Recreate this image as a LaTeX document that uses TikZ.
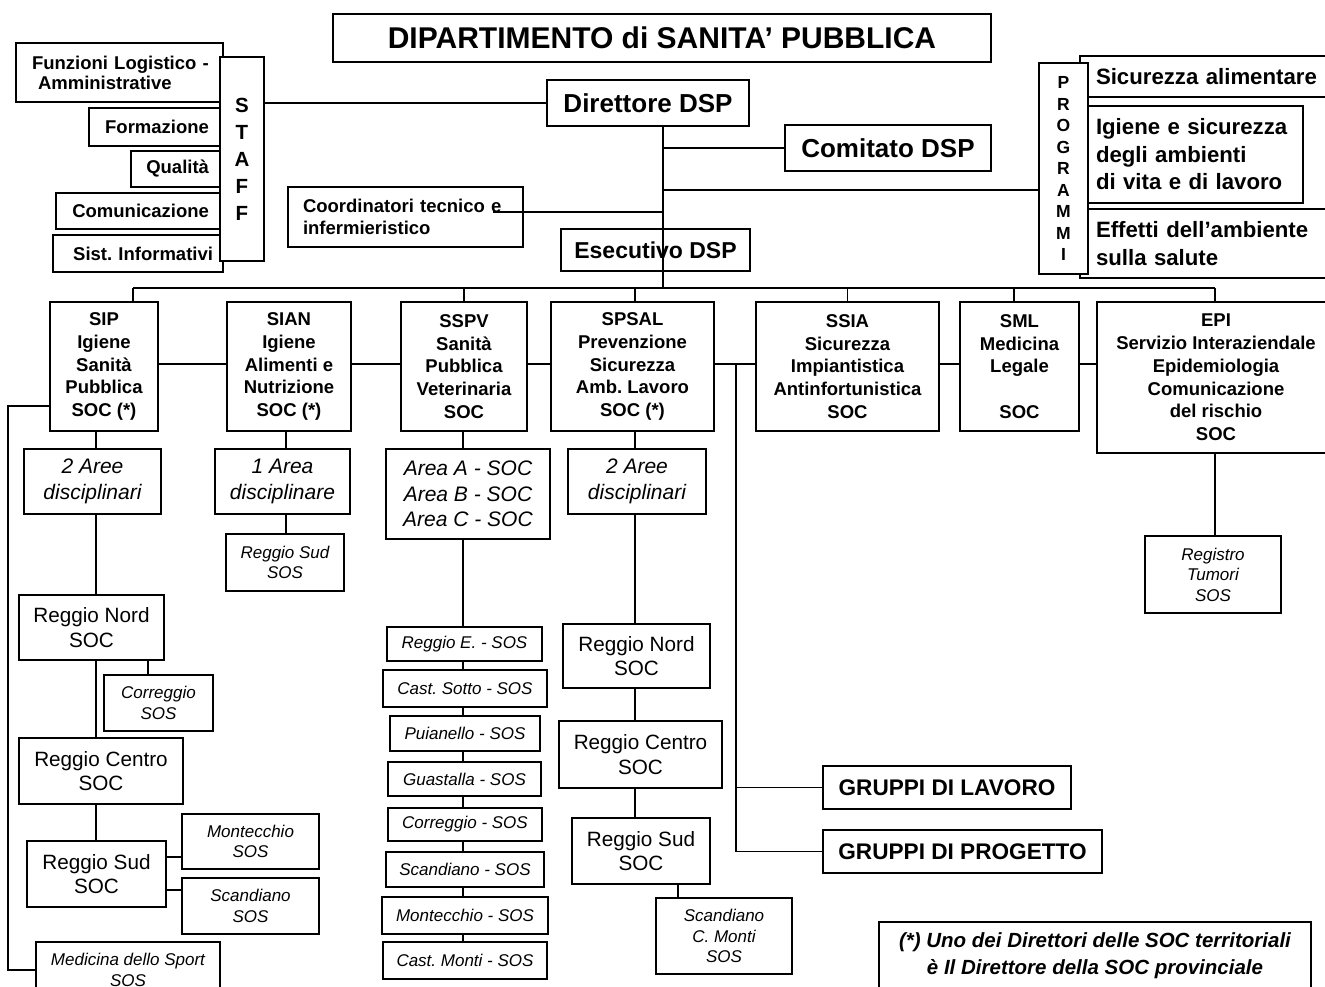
\documentclass[tikz,border=0pt]{standalone}
\usepackage{fontspec}
\setmainfont{Liberation Sans}
\frenchspacing
\pgfdeclarelayer{bg}
\pgfsetlayers{bg,main}
\begin{document}
\begin{tikzpicture}[x=1pt,y=-1pt,
  bx/.style={draw, fill=white, line width=1.5pt, inner sep=0pt, align=center},
  ln/.style={line width=1.4pt},
  fStaff/.style={font=\fontsize{18.5}{20}\selectfont\bfseries},
  fCoord/.style={font=\fontsize{18.5}{22}\selectfont\bfseries},
  fProg/.style={font=\fontsize{22.2}{27.5}\selectfont\bfseries},
  fServ/.style={font=\fontsize{18.5}{22.75}\selectfont\bfseries},
  fIt/.style={font=\fontsize{21}{25.5}\selectfont\itshape},
  fReg/.style={font=\fontsize{20.7}{24.5}\selectfont},
  fSm/.style={font=\fontsize{17}{20.5}\selectfont\itshape},
  fGr/.style={font=\fontsize{22.6}{27}\selectfont\bfseries},
  fNote/.style={font=\fontsize{20.5}{27}\selectfont\bfseries\itshape}
]
\useasboundingbox (0,0) rectangle (1325,987);

% ---------- top ----------
\node[bx, line width=2.6pt, minimum width=658, minimum height=48, font=\fontsize{30}{36}\selectfont\bfseries] (title) at (662,38) {DIPARTIMENTO di SANITA’ PUBBLICA};
\node[bx, minimum width=202, minimum height=46, font=\fontsize{26}{30}\selectfont\bfseries] (dir) at (648,103) {Direttore DSP};
\node[bx, minimum width=206, minimum height=46, font=\fontsize{26}{30}\selectfont\bfseries] (com) at (888,148) {Comitato DSP};
\node[bx, fCoord, minimum width=235, minimum height=60, text width=205, inner xsep=15pt, align=left] (coord) at (405.5,217) {\mbox{Coordinatori tecnico e}\\\mbox{infermieristico}};
\node[bx, minimum width=189, minimum height=42, font=\fontsize{23}{27}\selectfont\bfseries] (ese) at (655.5,250) {Esecutivo DSP};

% ---------- staff ----------
\node[bx, fStaff, minimum width=207, minimum height=59, text width=175, inner xsep=16pt, align=left] (funz) at (119.5,72.5) {\mbox{Funzioni Logistico -}\\\mbox{\hspace*{6pt}Amministrative}};
\node[bx, fStaff, minimum width=134, minimum height=38, text width=106, inner xsep=14pt, align=right] (form) at (156,127) {\mbox{Formazione}};
\node[bx, fStaff, minimum width=92, minimum height=36, text width=64, inner xsep=14pt, align=right] (qual) at (177,169) {\mbox{Qualità}};
\node[bx, fStaff, minimum width=167, minimum height=36, text width=139, inner xsep=14pt, align=right] (comu) at (139.5,211) {\mbox{Comunicazione}};
\node[bx, fStaff, minimum width=170, minimum height=37, text width=150, inner xsep=10pt, align=right] (sist) at (138,253.5) {\mbox{Sist. Informativi}};
\node[bx, minimum width=44, minimum height=204, font=\fontsize{20.5}{27}\selectfont\bfseries] (staff) at (242,159) {S\\T\\A\\F\\F};

% ---------- programmi ----------
\node[bx, fProg, minimum width=255, minimum height=41, text width=223, inner xsep=16pt, align=left] (sa) at (1207.5,76.5) {\mbox{Sicurezza alimentare}};
\node[bx, fProg, minimum width=223, minimum height=97, text width=191, inner xsep=16pt, align=left] (ig) at (1191.5,154.5) {\mbox{Igiene e sicurezza}\\\mbox{degli ambienti}\\\mbox{di vita e di lavoro}};
\node[bx, fProg, minimum width=255, minimum height=69, text width=223, inner xsep=16pt, align=left] (eff) at (1207.5,243.5) {\mbox{Effetti dell’ambiente}\\\mbox{sulla salute}};
\node[bx, minimum width=49, minimum height=211, font=\fontsize{17.5}{21.5}\selectfont\bfseries] (prog) at (1063.5,168.5) {P\\R\\O\\G\\R\\A\\M\\M\\I};

% ---------- services ----------
\node[bx, fServ, minimum width=108, minimum height=129] (sip) at (104,366.5) {SIP\\Igiene\\Sanità\\Pubblica\\SOC (*)};
\node[bx, fServ, minimum width=124, minimum height=129] (sian) at (289,366.5) {SIAN\\Igiene\\Alimenti e\\Nutrizione\\SOC (*)};
\node[bx, fServ, minimum width=126, minimum height=129] (sspv) at (464,366.5) {SSPV\\Sanità\\Pubblica\\Veterinaria\\SOC};
\node[bx, fServ, minimum width=163, minimum height=129] (spsal) at (632.5,366.5) {SPSAL\\Prevenzione\\Sicurezza\\Amb. Lavoro\\SOC (*)};
\node[bx, fServ, minimum width=183, minimum height=129] (ssia) at (847.5,366.5) {SSIA\\Sicurezza\\Impiantistica\\Antinfortunistica\\SOC};
\node[bx, fServ, minimum width=119, minimum height=129] (sml) at (1019.5,366.5) {SML\\Medicina\\Legale\\[22.75pt]SOC};
\node[bx, fServ, minimum width=238, minimum height=151] (epi) at (1216,377.5) {EPI\\Servizio Interaziendale\\Epidemiologia\\Comunicazione\\del rischio\\SOC};

% ---------- SIP column ----------
\node[bx, fIt, minimum width=137, minimum height=65] (sipA) at (92.5,481.5) {2 Aree\\disciplinari};
\node[bx, fReg, minimum width=145, minimum height=65] (sipN) at (91.5,627.5) {Reggio Nord\\SOC};
\node[bx, fSm, minimum width=109, minimum height=56] (sipCor) at (158.5,703) {Correggio\\SOS};
\node[bx, fReg, minimum width=164, minimum height=66] (sipC) at (101,771) {Reggio Centro\\SOC};
\node[bx, fReg, minimum width=139, minimum height=66] (sipS) at (96.5,874) {Reggio Sud\\SOC};
\node[bx, fSm, minimum width=137, minimum height=55] (sipMon) at (250.5,841.5) {Montecchio\\SOS};
\node[bx, fSm, minimum width=137, minimum height=56] (sipSca) at (250.5,906) {Scandiano\\SOS};
\node[bx, fSm, minimum width=184, minimum height=56] (sipMed) at (128,970) {Medicina dello Sport\\SOS};

% ---------- SIAN column ----------
\node[bx, fIt, minimum width=135, minimum height=65] (sianA) at (282.5,481.5) {1 Area\\disciplinare};
\node[bx, fSm, minimum width=118, minimum height=57] (sianS) at (285,562.5) {Reggio Sud\\SOS};

% ---------- SSPV column ----------
\node[bx, fIt, minimum width=164, minimum height=90] (sspvA) at (468,494) {Area A - SOC\\Area B - SOC\\Area C - SOC};
\node[bx, fSm, minimum width=155, minimum height=34] (re) at (464.5,644) {Reggio E. - SOS};
\node[bx, fSm, minimum width=164, minimum height=37] (cs) at (465,688.5) {Cast. Sotto - SOS};
\node[bx, fSm, minimum width=150, minimum height=35] (pu) at (465,733.5) {Puianello - SOS};
\node[bx, fSm, minimum width=153, minimum height=34] (gu) at (464.5,779) {Guastalla - SOS};
\node[bx, fSm, minimum width=154, minimum height=33] (co) at (465,824.5) {Correggio - SOS};
\node[bx, fSm, minimum width=158, minimum height=35] (sc) at (465,869.5) {Scandiano - SOS};
\node[bx, fSm, minimum width=166, minimum height=37] (mo) at (465,915.5) {Montecchio - SOS};
\node[bx, fSm, minimum width=164, minimum height=37] (cm) at (465,960.5) {Cast. Monti - SOS};

% ---------- SPSAL column ----------
\node[bx, fIt, minimum width=138, minimum height=65] (spA) at (637,481.5) {2 Aree\\disciplinari};
\node[bx, fReg, minimum width=147, minimum height=64] (spN) at (636.5,656) {Reggio Nord\\SOC};
\node[bx, fReg, minimum width=163, minimum height=67] (spC) at (640.5,754.5) {Reggio Centro\\SOC};
\node[bx, fReg, minimum width=138, minimum height=66] (spS) at (641,851) {Reggio Sud\\SOC};
\node[bx, fSm, minimum width=136, minimum height=76] (spSca) at (724,936) {Scandiano\\C. Monti\\SOS};

% ---------- gruppi, EPI, note ----------
\node[bx, fGr, minimum width=248, minimum height=43] (gl) at (947,787.5) {GRUPPI DI LAVORO};
\node[bx, fGr, minimum width=279, minimum height=43] (gp) at (962.5,851.5) {GRUPPI DI PROGETTO};
\node[bx, fSm, minimum width=136, minimum height=77] (reg) at (1213,574.5) {Registro\\Tumori\\SOS};
\node[bx, fNote, minimum width=432, minimum height=67] (note) at (1095,955.5) {(*) Uno dei Direttori delle SOC territoriali\\è Il Direttore della SOC provinciale};

% ---------- helper coordinates ----------
\coordinate (spine) at (663,0);
\coordinate (bus) at (0,288);
\coordinate (hrow) at (0,364);
\coordinate (progline) at (0,190);
\coordinate (coordend) at (493,212);
\coordinate (siptick) at (133,0);
\coordinate (smltick) at (1014,0);
\coordinate (epix) at (1215,0);
\coordinate (sipx) at (96,0);
\coordinate (corx) at (148,0);
\coordinate (monY) at (0,857);
\coordinate (scaY) at (0,890);
\coordinate (medtop) at (0,406);
\coordinate (medx) at (8,0);
\coordinate (sianx) at (286,0);
\coordinate (sspvx) at (463,0);
\coordinate (spx) at (635,0);
\coordinate (scx) at (678,0);
\coordinate (gtop) at (736,364);

% ---------- connectors on top ----------
\draw[ln] (spine |- dir.south) -- (spine |- bus);
\draw[ln] (spine |- com.west) -- (com.west);
\draw[ln] (spine |- progline) -- (prog.west |- progline);
\draw[ln] (spine |- coordend) -- (coordend);
\draw[ln] (staff.east |- dir.west) -- (dir.west);

% ---------- connectors behind ----------
\begin{pgfonlayer}{bg}
\draw[ln] (siptick |- bus) -- (epix |- bus);
\draw[ln] (siptick |- bus) -- (siptick |- sip.north);
\draw[ln] (sspv.north |- bus) -- (sspv.north);
\draw[ln] (spx |- bus) -- (spx |- spsal.north);
\draw[ln] (ssia.north |- bus) -- (ssia.north);
\draw[ln] (smltick |- bus) -- (smltick |- sml.north);
\draw[ln] (epix |- bus) -- (epix |- epi.north);
\draw[ln] (sip.east |- hrow) -- (epi.west |- hrow);
% SIP
\draw[ln] (sipx |- sip.south) -- (sipx |- sipS.north);
\draw[ln] (corx |- sipN.south) -- (corx |- sipCor.north);
\draw[ln] (sipS.east |- monY) -- (sipMon.west |- monY);
\draw[ln] (sipS.east |- scaY) -- (sipSca.west |- scaY);
\draw[ln] (sip.west |- medtop) -| (medx |- sipMed.west) -- (sipMed.west);
% SIAN
\draw[ln] (sianx |- sian.south) -- (sianx |- sianS.north);
% SSPV
\draw[ln] (sspvx |- sspv.south) -- (sspvx |- cm.north);
% SPSAL
\draw[ln] (spx |- spsal.south) -- (spx |- spS.north);
\draw[ln] (scx |- spS.south) -- (scx |- spSca.north);
% gruppi
\draw[ln] (gtop) |- (gl.west);
\draw[ln] (gtop) |- (gp.west);
% EPI
\draw[ln] (epix |- epi.south) -- (epix |- reg.north);
\end{pgfonlayer}
\end{tikzpicture}
\end{document}
